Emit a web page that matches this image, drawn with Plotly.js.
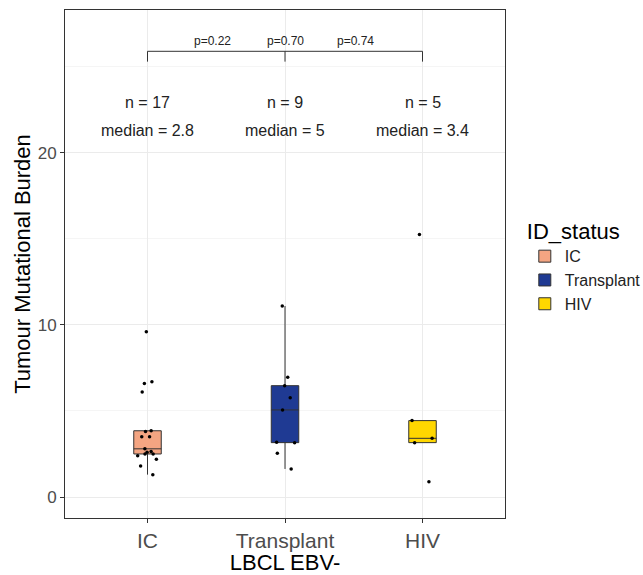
<!DOCTYPE html>
<html>
<head>
<meta charset="utf-8">
<script src="https://cdn.plot.ly/plotly-3.0.1.min.js"></script>
<style>html,body{margin:0;padding:0;background:#fff;}</style>
</head>
<body>
<div id="chart" style="width:643px;height:575px;"></div>
<script>
// ---- data ----
const categories = ["IC", "Transplant", "HIV"];
const icValues = [9.6, 6.7, 6.6, 6.1, 3.85, 3.8, 3.5, 3.5, 2.8, 2.65, 2.6, 2.5, 2.5, 2.4, 2.2, 1.8, 1.3];
const transplantValues = [11.1, 6.96, 6.47, 5.77, 5.06, 3.18, 3.16, 2.54, 1.63];
const hivValues = [15.25, 4.44, 3.41, 3.16, 0.89];
const medianLabels = ["2.8", "5", "3.4"];
const pLabels = ["p=0.22", "p=0.70", "p=0.74"];
const fillColors = ["#F4A582", "#1F3A93", "#FFD700"];

const seriesValues = [icValues, transplantValues, hivValues];
const FONT = "Liberation Sans, Arial, sans-serif";

const traces = categories.map((c, i) => ({
  type: "box",
  name: c,
  x: seriesValues[i].map(() => c),
  y: seriesValues[i],
  fillcolor: fillColors[i],
  line: {color: "#333333", width: 1},
  marker: {color: "#000000", size: 3.5},
  boxpoints: "all",
  jitter: 0.9,
  pointpos: 0,
  width: 0.2,
  whiskerwidth: 0,
  quartilemethod: "inclusive",
  hoverinfo: "y"
}));

const bracketY = 25.9, bracketDrop = 0.6, pY = 26.5, nY = 22.9, medY = 21.3;

const shapes = [
  {type: "line", xref: "x", yref: "y", x0: 0, x1: 2, y0: bracketY, y1: bracketY, line: {color: "#333", width: 1}},
  {type: "line", xref: "x", yref: "y", x0: 0, x1: 0, y0: bracketY - bracketDrop, y1: bracketY, line: {color: "#333", width: 1}},
  {type: "line", xref: "x", yref: "y", x0: 1, x1: 1, y0: bracketY - bracketDrop, y1: bracketY, line: {color: "#333", width: 1}},
  {type: "line", xref: "x", yref: "y", x0: 2, x1: 2, y0: bracketY - bracketDrop, y1: bracketY, line: {color: "#333", width: 1}}
];

const pX = [0.47, 1.0, 1.51];
const annotations = [];
pLabels.forEach((t, i) => annotations.push({
  x: pX[i], y: pY, xref: "x", yref: "y", text: t, showarrow: false,
  font: {family: FONT, size: 12, color: "#222"}
}));
categories.forEach((c, i) => {
  annotations.push({
    x: i, y: nY, xref: "x", yref: "y",
    text: "n = " + seriesValues[i].length,
    showarrow: false, font: {family: FONT, size: 16, color: "#222"}
  });
  annotations.push({
    x: i, y: medY, xref: "x", yref: "y",
    text: "median = " + medianLabels[i],
    showarrow: false, font: {family: FONT, size: 16, color: "#222"}
  });
});

const layout = {
  width: 643, height: 575,
  margin: {l: 65, r: 138, t: 10, b: 57, autoexpand: false},
  paper_bgcolor: "#fff", plot_bgcolor: "#fff",
  font: {family: FONT},
  showlegend: true,
  legend: {
    x: 1.045, xanchor: "left", y: 0.605, yanchor: "top",
    title: {text: "ID_status", font: {family: FONT, size: 22, color: "#000"}},
    font: {family: FONT, size: 16, color: "#222"},
    tracegroupgap: 0, itemwidth: 30
  },
  xaxis: {
    type: "category", categoryorder: "array", categoryarray: categories,
    range: [-0.6, 2.6],
    showgrid: true, gridcolor: "#EBEBEB", gridwidth: 1,
    showline: true, mirror: true, linecolor: "#333", linewidth: 1,
    ticks: "outside", ticklen: 4, tickcolor: "#333",
    tickfont: {family: FONT, size: 21, color: "#4D4D4D"},
    title: {text: "LBCL EBV-", font: {family: FONT, size: 22, color: "#000"}, standoff: 0},
    zeroline: false
  },
  yaxis: {
    range: [-1.22, 28.3],
    tickvals: [0, 10, 20],
    showgrid: true, gridcolor: "#EBEBEB", gridwidth: 1,
    minor: {tickvals: [5, 15, 25], showgrid: true, gridcolor: "#F5F5F5", gridwidth: 1},
    showline: true, mirror: true, linecolor: "#333", linewidth: 1,
    ticks: "outside", ticklen: 4, tickcolor: "#333",
    tickfont: {family: FONT, size: 17, color: "#4D4D4D"},
    title: {text: "Tumour Mutational Burden", font: {family: FONT, size: 22, color: "#000"}, standoff: 0},
    zeroline: false
  },
  shapes: shapes,
  annotations: annotations,
  boxgap: 0
};

Plotly.newPlot("chart", traces, layout, {displayModeBar: false, staticPlot: true});
</script>
</body>
</html>
